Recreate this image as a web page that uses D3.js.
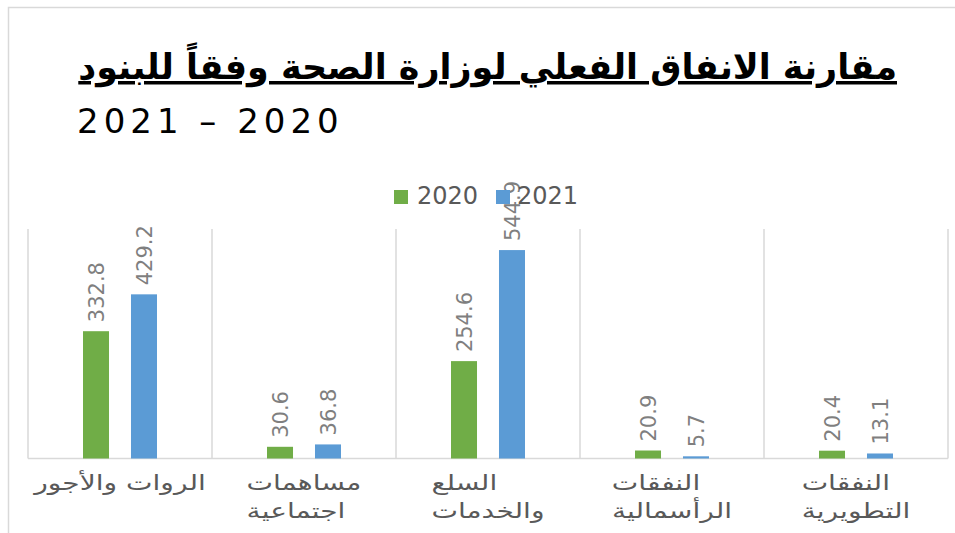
<!DOCTYPE html>
<html>
<head>
<meta charset="utf-8">
<script src="https://cdn.jsdelivr.net/npm/d3@7"></script>
<style>
  html, body { margin: 0; padding: 0; background: #ffffff; }
  svg { display: block; }
</style>
</head>
<body>
<svg id="chart" width="955" height="533"></svg>
<script>
// Spending items (category axis), each label split into its display lines
const categories = ["الرواتب", "مساهمات", "السلع", "النفقات الرأسمالية", "النفقات التطويرية"];
const categoryLines = [
  ["الروات والأجور"],
  ["مساهمات", "اجتماعية"],
  ["السلع", "والخدمات"],
  ["النفقات", "الرأسمالية"],
  ["النفقات", "التطويرية"]
];
const seriesNames = ["2020", "2021"];
const values2020 = [332.8, 30.6, 254.6, 20.9, 20.4];
const values2021 = [429.2, 36.8, 544.9, 5.7, 13.1];
const yTicks = [0, 600];
const titleLine1 = "مقارنة الانفاق الفعلي لوزارة الصحة وفقاً للبنود";
const titleLine2 = "2021 – 2020";

const colors = { "2020": "#70AD47", "2021": "#5B9BD5" };
const seriesValues = { "2020": values2020, "2021": values2021 };

const svg = d3.select("#chart");
const W = 955, H = 533;

// chart frame
svg.append("rect")
  .attr("x", 8.5).attr("y", 7.5)
  .attr("width", W + 10).attr("height", H + 10)
  .attr("fill", "#ffffff").attr("stroke", "#d9d9d9").attr("stroke-width", 1.5);

const plot = { left: 28, right: 948, top: 229, bottom: 458.5 };

const x0 = d3.scaleBand().domain(categories).range([plot.left, plot.right]).padding(0);
const x1 = d3.scaleBand().domain(seriesNames).range([0, x0.bandwidth()])
  .paddingInner(0.458).paddingOuter(1.146);
const y = d3.scaleLinear().domain([yTicks[0], yTicks[1]]).range([plot.bottom, plot.top]);

// vertical gridlines on category boundaries
const bounds = categories.map(c => x0(c)).concat([x0.range()[1]]);
svg.append("g").selectAll("line").data(bounds).join("line")
  .attr("x1", d => d).attr("x2", d => d)
  .attr("y1", y(yTicks[1])).attr("y2", y(0))
  .attr("stroke", "#d9d9d9").attr("stroke-width", 1.5);

// category axis line
svg.append("line")
  .attr("x1", plot.left).attr("x2", plot.right)
  .attr("y1", y(0)).attr("y2", y(0))
  .attr("stroke", "#d9d9d9").attr("stroke-width", 1.5);

// bars
const groups = svg.append("g").selectAll("g").data(categories).join("g")
  .attr("transform", c => `translate(${x0(c)},0)`);

groups.selectAll("rect")
  .data((c, i) => seriesNames.map(s => ({ s, v: seriesValues[s][i] })))
  .join("rect")
  .attr("x", d => x1(d.s))
  .attr("width", x1.bandwidth())
  .attr("y", d => y(d.v))
  .attr("height", d => y(0) - y(d.v))
  .attr("fill", d => colors[d.s]);

// rotated value labels
groups.selectAll("text.val")
  .data((c, i) => seriesNames.map(s => ({ s, v: seriesValues[s][i] })))
  .join("text")
  .attr("class", "val")
  .attr("transform", d => `translate(${x1(d.s) + x1.bandwidth() / 2},${y(d.v) - 9}) rotate(-90)`)
  .attr("dy", "0.36em")
  .attr("text-anchor", "start")
  .attr("font-family", "DejaVu Sans, sans-serif")
  .attr("font-size", 21)
  .attr("fill", "#7f7f7f")
  .text(d => d.v.toFixed(1));

// category labels: wide-set Arabic lines sharing a left edge, block centred in its band
const labelStretch = 1.34;
categories.forEach((c, i) => {
  const g = svg.append("g");
  const lines = categoryLines[i].map((line, j) => {
    const lg = g.append("g");
    const t = lg.append("text")
      .attr("x", 0).attr("y", 0)
      .attr("text-anchor", "middle")
      .attr("font-family", "DejaVu Sans, sans-serif")
      .attr("font-size", 21)
      .attr("fill", "#595959")
      .text(line);
    return { lg, t, j, w: t.node().getBBox().width * labelStretch };
  });
  const maxW = d3.max(lines, d => d.w);
  const left = x0(c) + x0.bandwidth() / 2 - maxW / 2;
  lines.forEach(d => d.lg.attr("transform",
    `translate(${left + d.w / 2},${490 + d.j * 28}) scale(${labelStretch},1)`));
});

// legend
const legend = svg.append("g");
const legendItems = [
  { s: seriesNames[0], sx: 394, tx: 417 },
  { s: seriesNames[1], sx: 496, tx: 517 }
];
legendItems.forEach(it => {
  legend.append("rect").attr("x", it.sx).attr("y", 190).attr("width", 14).attr("height", 14)
    .attr("fill", colors[it.s]);
  legend.append("text").attr("x", it.tx).attr("y", 204)
    .attr("font-family", "DejaVu Sans, sans-serif").attr("font-size", 24)
    .attr("fill", "#595959").text(it.s);
});

// title
const t1 = svg.append("text")
  .attr("x", 897).attr("y", 79)
  .attr("text-anchor", "end")
  .attr("font-family", "DejaVu Sans, sans-serif")
  .attr("font-weight", "bold")
  .attr("font-size", 40)
  .attr("text-decoration", "underline")
  .attr("fill", "#000000")
  .text(titleLine1);
const w1 = t1.node().getComputedTextLength();
t1.attr("font-size", Math.min(46, 40 * 819 / w1));

svg.append("text")
  .attr("x", 77).attr("y", 133)
  .attr("font-family", "DejaVu Sans, sans-serif")
  .attr("font-size", 34)
  .attr("letter-spacing", 5)
  .attr("fill", "#000000")
  .text(titleLine2);
</script>
</body>
</html>
